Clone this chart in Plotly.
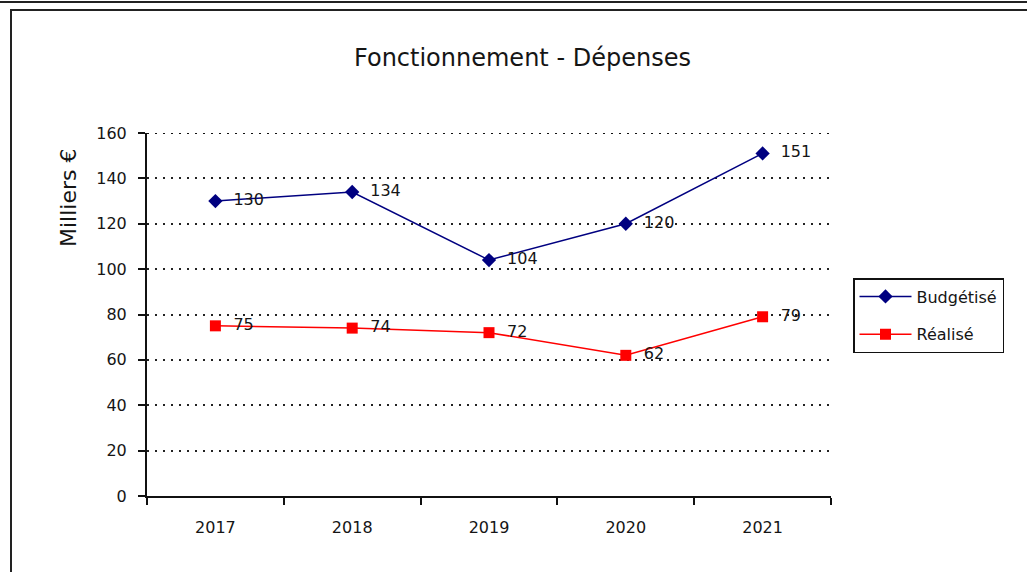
import plotly.graph_objects as go

years = ["2017", "2018", "2019", "2020", "2021"]
budgetise = [130, 134, 104, 120, 151]
realise = [75, 74, 72, 62, 79]
y_ticks = [0, 20, 40, 60, 80, 100, 120, 140, 160]

W, H = 1027, 572
# plot area in screen pixels
L, R, T, B = 147, 831, 133, 496

def px(x):
    return (x - L) / (R - L)

def py(y):
    return (B - y) / (B - T)

FONT = "DejaVu Sans"
TXT = "#151515"

fig = go.Figure()
fig.add_trace(go.Scatter(
    x=years, y=budgetise, name="Budgétisé", mode="lines+markers+text",
    line=dict(color="#000080", width=1.5),
    marker=dict(symbol="diamond", size=11, color="#000080"),
    texttemplate="  %{y}", textposition="middle right",
    textfont=dict(family=FONT, size=16, color=TXT),
    legendgroup="a",
))
fig.add_trace(go.Scatter(
    x=years, y=realise, name="Réalisé", mode="lines+markers+text",
    line=dict(color="#ff0000", width=1.5),
    marker=dict(symbol="square", size=11, color="#ff0000"),
    texttemplate="  %{y}", textposition="middle right",
    textfont=dict(family=FONT, size=16, color=TXT),
    legendgroup="b",
))

shapes = [
    # top gridline at 160 (edge of range)
    dict(type="line", xref="paper", yref="y", x0=0, x1=1, y0=160, y1=160,
         line=dict(color="#111", width=2, dash="2px,6px")),
    # line of the chart above
    dict(type="line", xref="paper", yref="paper", x0=px(-20), x1=px(1060), y0=py(2), y1=py(2),
         line=dict(color="#222", width=2)),
    # chart frame
    dict(type="rect", xref="paper", yref="paper", x0=px(11), x1=px(1060), y0=py(10), y1=py(620),
         line=dict(color="#222", width=2)),
]

annotations = [
    dict(text="Milliers €", xref="paper", yref="paper", x=px(68), y=py(198),
         xanchor="center", yanchor="middle", textangle=-90, showarrow=False,
         font=dict(family=FONT, size=22, color=TXT)),
    dict(text="Fonctionnement - Dépenses", xref="paper", yref="paper", x=px(522), y=py(58),
         xanchor="center", yanchor="middle", showarrow=False,
         font=dict(family=FONT, size=24, color=TXT)),
]

fig.update_layout(
    width=W, height=H,
    margin=dict(l=L, r=W - R, t=T, b=H - B, autoexpand=False),
    paper_bgcolor="white", plot_bgcolor="white",
    font=dict(family=FONT, color=TXT),
    shapes=shapes, annotations=annotations,
    legend=dict(x=px(853), y=py(278), xanchor="left", yanchor="top",
                bordercolor="#111", borderwidth=1.5, bgcolor="white",
                font=dict(family=FONT, size=16, color=TXT),
                itemwidth=52, traceorder="grouped", tracegroupgap=14),
    showlegend=True,
)
fig.update_xaxes(
    type="category", range=[-0.5, 4.5], tickson="boundaries",
    ticks="outside", ticklen=7, tickwidth=1.5, tickcolor="#111",
    showline=True, linecolor="#111", linewidth=2, showgrid=False,
    tickfont=dict(family=FONT, size=16, color=TXT), ticklabelstandoff=16,
)
fig.update_yaxes(
    range=[0, 160], tickvals=y_ticks, ticks="outside", ticklen=7, tickwidth=1.5,
    tickcolor="#111", showline=True, linecolor="#111", linewidth=2,
    showgrid=True, gridcolor="#222", gridwidth=1.5, griddash="2px,6px",
    zeroline=False, tickfont=dict(family=FONT, size=16, color=TXT),
    ticklabelstandoff=8,
)

fig.write_html("out.html", config={"displayModeBar": False},
               post_script="document.body.style.margin='0';")
